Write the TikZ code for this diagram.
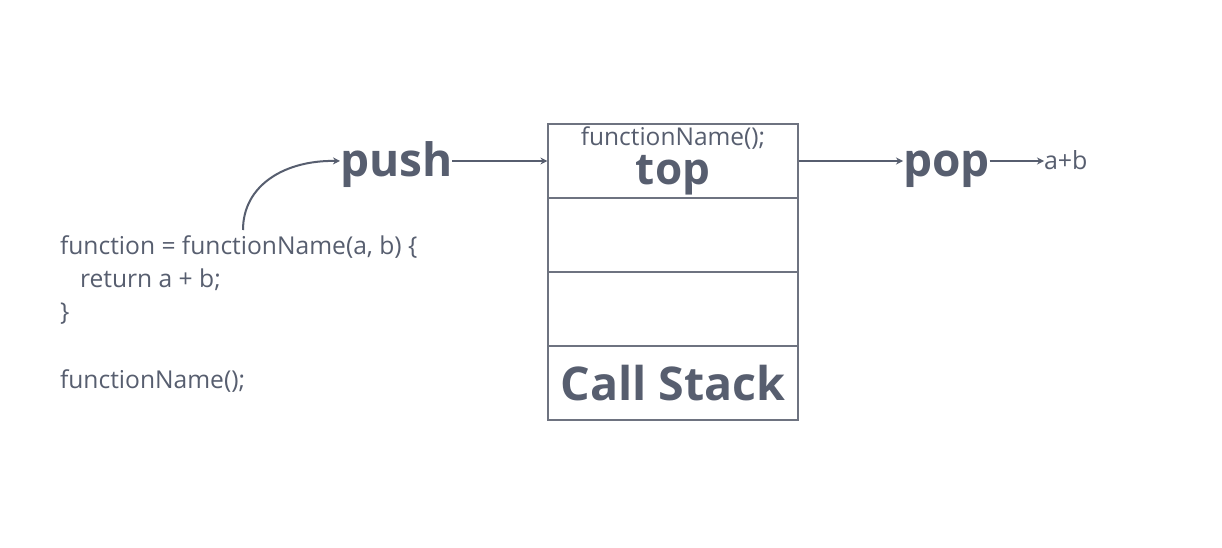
\documentclass[tikz,border=0pt]{standalone}
\usepackage{fontspec}
\setmainfont{Open Sans}
\usetikzlibrary{arrows.meta}
\definecolor{ink}{HTML}{575E6F}
\definecolor{boxline}{HTML}{6E7380}
\begin{document}
\begin{tikzpicture}[x=1pt,y=-1pt,
  txt/.style={text=ink, inner sep=0pt, outer sep=0pt},
  code/.style={txt, font=\fontsize{24.6}{28}\selectfont, anchor=base west},
  big/.style={txt, font=\fontsize{46}{50}\selectfont\bfseries, anchor=base},
  conn/.style={draw=ink, line width=2pt, -{Stealth[length=7pt,width=7pt]}},
  cell/.style={draw=boxline, line width=1.2pt, minimum width=250pt, minimum height=74pt, inner sep=0pt}]
\useasboundingbox[fill=white] (0,0) rectangle (1222,548);
% stack cells
\node[cell] (c1) at (673,161) {};
\node[cell] (c2) at (673,235) {};
\node[cell] (c3) at (673,309) {};
\node[cell] (c4) at (673,383) {};
\node[txt, anchor=base, font=\fontsize{24.5}{28}\selectfont] (topfn) at (673,146) {functionName();};
\node[big, font=\fontsize{44}{50}\selectfont\bfseries] (top) at (673,184) {top};
\node[big, font=\fontsize{46.5}{50}\selectfont\bfseries] (cs) at (673,400) {Call Stack};
% push / pop
\node[big, anchor=base west] (push) at (340,176) {push};
\node[big, anchor=base west] (pop) at (903,177) {pop};
\node[code, font=\fontsize{25}{28}\selectfont] (ab) at (1044,169) {a+b};
% code
\node[code] (l1) at (60,254) {function = functionName(a, b) \{};
\node[code] (l2) at (80,287) {return a + b;};
\node[code] (l3) at (60,320) {\}};
\node[code] (l5) at (60,388) {functionName();};
% connectors
\coordinate (curvestart) at (243,230);
\draw[conn] (curvestart) .. controls (243,185) and (285,160) .. (push.west |- c1.west);
\draw[conn] (push.east |- c1.west) -- (c1.west);
\draw[conn] (c1.east) -- (pop.west |- c1.east);
\draw[conn] (pop.east |- c1.east) -- (ab.west |- c1.east);
\end{tikzpicture}
\end{document}
